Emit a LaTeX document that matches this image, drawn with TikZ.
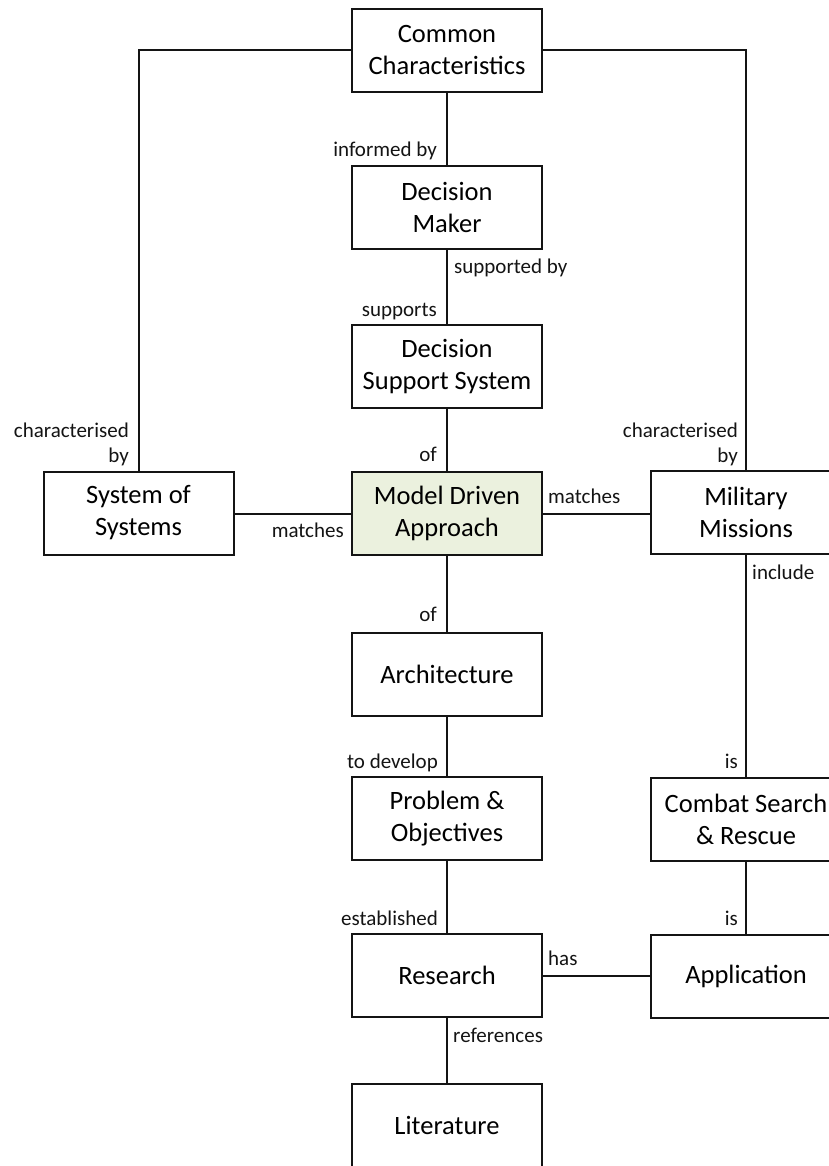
\documentclass[tikz,border=0pt]{standalone}
\usepackage{fontspec}
\setmainfont{Carlito}
\definecolor{mdafill}{RGB}{235,241,222}
\definecolor{ink}{RGB}{20,20,20}
\tikzset{
  concept/.style={draw=ink, line width=2pt, minimum width=190pt, minimum height=83pt,
    inner sep=0pt, align=center, font=\fontsize{26.5}{32}\selectfont},
  link/.style={draw=ink, line width=2pt},
  rel/.style={inner sep=0pt, font=\fontsize{21}{25}\selectfont, text=ink},
}
\begin{document}
\begin{tikzpicture}[x=1pt, y=-1pt]
\clip (0,0) rectangle (829,1166);
\fill[white] (0,0) rectangle (829,1166);

% concept boxes
\node[concept] (cc)  at (447,50.5)   {Common\\Characteristics};
\node[concept] (dm)  at (447,207.5)  {Decision\\Maker};
\node[concept] (dss) at (447,366.5)  {Decision\\Support System};
\node[concept, fill=mdafill] (mda) at (447,513.5) {Model Driven\\Approach};
\node[concept] (sos) at (138.5,513)  {System of\\Systems};
\node[concept] (mm)  at (746,512.5)  {Military\\Missions};
\node[concept] (arch) at (447,674)   {Architecture};
\node[concept] (po)  at (447,818.5)  {Problem \&\\Objectives};
\node[concept] (csr) at (746,819)    {Combat Search\\\& Rescue};
\node[concept] (res) at (447,975.5)  {Research};
\node[concept] (app) at (746,976)    {Application};
\node[concept] (lit) at (447,1125.5) {Literature};

% connectors
\draw[link] (cc.west) -| (sos.north);
\draw[link] (cc.east) -| (mm.north);
\draw[link] (cc) -- (dm);
\draw[link] (dm) -- (dss);
\draw[link] (dss) -- (mda);
\draw[link] (mda.west) -- (sos.east |- mda.west);
\draw[link] (mda.east) -- (mm.west |- mda.east);
\draw[link] (mda) -- (arch);
\draw[link] (arch) -- (po);
\draw[link] (po) -- (res);
\draw[link] (mm) -- (csr);
\draw[link] (csr) -- (app);
\draw[link] (res.east) -- (app.west |- res.east);
\draw[link] (res) -- (lit);

% relation labels
\node[rel, anchor=base east] (l1) at (437,157) {informed by};
\node[rel, anchor=base west] (l2) at (454,273) {supported by};
\node[rel, anchor=base east] (l3) at (437,316) {supports};
\node[rel, anchor=base east] (l4) at (437,461) {of};
\node[rel, anchor=base east, align=right] (l5) at (129,462) {characterised\\by};
\node[rel, anchor=base east, align=right] (l6) at (738,462) {characterised\\by};
\node[rel, anchor=base east] (l7) at (344,537) {matches};
\node[rel, anchor=base west] (l8) at (548,503) {matches};
\node[rel, anchor=base west] (l9) at (752,579) {include};
\node[rel, anchor=base east] (l10) at (437,621) {of};
\node[rel, anchor=base east] (l11) at (438,768) {to develop};
\node[rel, anchor=base east] (l12) at (738,768) {is};
\node[rel, anchor=base east] (l13) at (438,925) {established};
\node[rel, anchor=base east] (l14) at (738,925) {is};
\node[rel, anchor=base west] (l15) at (548,965) {has};
\node[rel, anchor=base west] (l16) at (453,1042) {references};
\end{tikzpicture}
\end{document}
